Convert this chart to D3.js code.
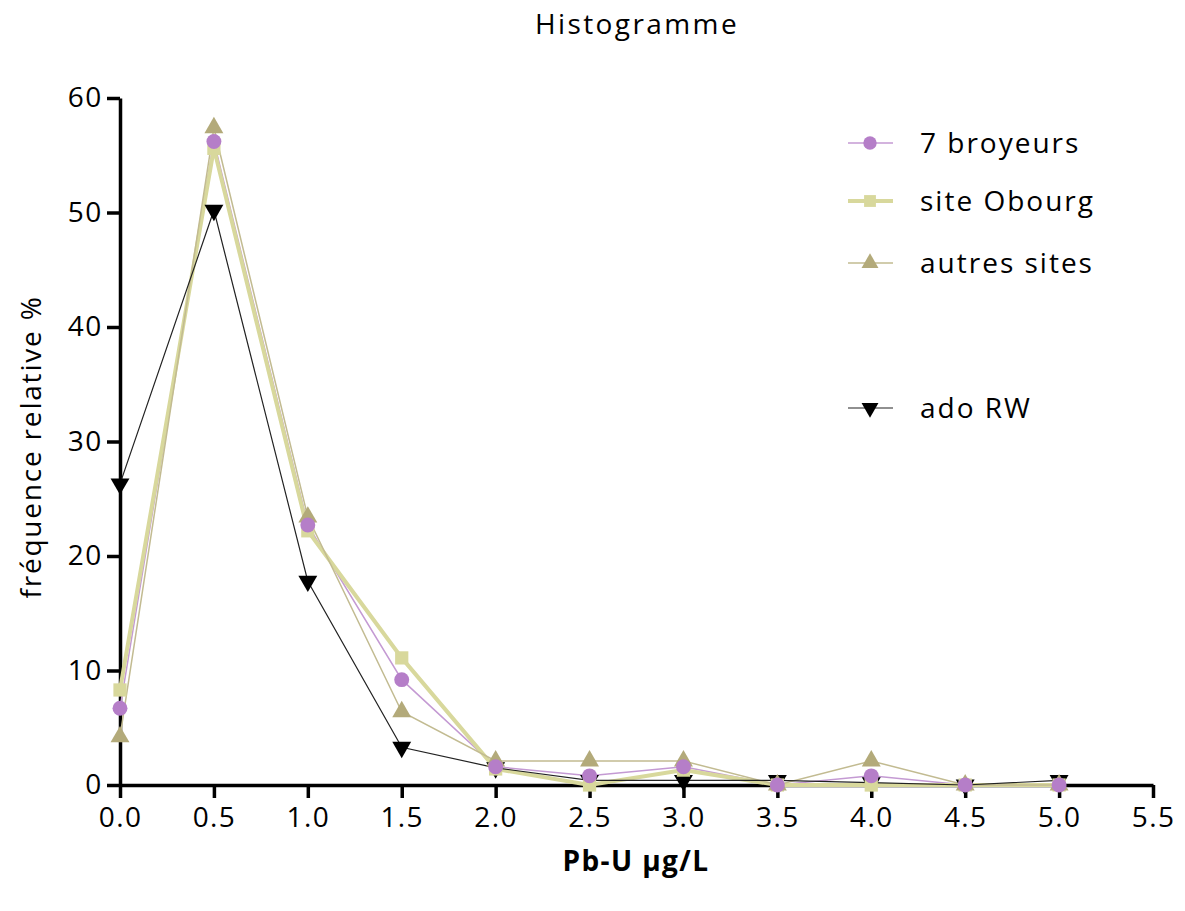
<!DOCTYPE html>
<html>
<head>
<meta charset="utf-8">
<script src="https://cdn.jsdelivr.net/npm/d3@7"></script>
<style>
  body { margin: 0; background: #fff; }
  text { font-family: "Open Sans", sans-serif; letter-spacing: 1.4px; }
</style>
</head>
<body>
<svg id="chart" width="1185" height="911"></svg>
<script>
// bins (Pb-U µg/L)
const bins = [0, 0.5, 1.0, 1.5, 2.0, 2.5, 3.0, 3.5, 4.0, 4.5, 5.0];
const xTicks = [0, 0.5, 1, 1.5, 2, 2.5, 3, 3.5, 4, 4.5, 5, 5.5];
const yTicks = [0, 10, 20, 30, 40, 50, 60];

const broyeurs = [6.7, 56.2, 22.7, 9.2, 1.6, 0.8, 1.6, 0, 0.8, 0, 0];
const obourg = [8.3, 55.6, 22.2, 11.1, 1.4, 0, 1.3, 0, 0, 0, 0];
const autres = [4.2, 57.4, 23.4, 6.4, 2.1, 2.1, 2.1, 0, 2.1, 0, 0];
const adoRW = [26.3, 50.2, 17.8, 3.3, 1.5, 0.4, 0.4, 0.4, 0.2, 0, 0.4];

const series = [
  { name: '7 broyeurs', values: broyeurs, color: '#b57ec8', lineColor: '#c49ad3', width: 1.5, symbol: d3.symbolCircle, size: 175, legendY: 143 },
  { name: 'site Obourg', values: obourg, color: '#d8d89c', lineColor: '#d8d89c', width: 4, symbol: d3.symbolSquare, size: 175, legendY: 201 },
  { name: 'autres sites', values: autres, color: '#b3aa7a', lineColor: '#c2bb91', width: 1.5, symbol: d3.symbolTriangle, size: 155, legendY: 263 },
  { name: 'ado RW', values: adoRW, color: '#000', lineColor: '#222', width: 1.2, symbol: d3.symbolTriangle, size: 155, flip: true, legendY: 408 }
];

const svg = d3.select('#chart');
const x = d3.scaleLinear().domain([0, 5.5]).range([120, 1153]);
const y = d3.scaleLinear().domain([0, 60]).range([785, 98]);

// title
svg.append('text')
  .attr('x', 637).attr('y', 34)
  .attr('text-anchor', 'middle')
  .style('font-size', '28px')
  .style('letter-spacing', '2.4px')
  .text('Histogramme');

// axes
const xAxis = svg.append('g')
  .attr('transform', `translate(0,${y(0)})`)
  .call(d3.axisBottom(x).tickValues(xTicks).tickFormat(d3.format('.1f')).tickSize(13).tickSizeOuter(0));
const yAxis = svg.append('g')
  .attr('transform', `translate(${x(0)},0)`)
  .call(d3.axisLeft(y).tickValues(yTicks).tickSize(13).tickSizeOuter(0));

[xAxis, yAxis].forEach(a => {
  a.select('.domain').attr('stroke', '#000').attr('stroke-width', 3.5);
  a.selectAll('.tick line').attr('stroke', '#000').attr('stroke-width', 3.5);
  a.selectAll('.tick text').style('font-size', '28px').attr('fill', '#000');
});
xAxis.selectAll('.tick text').attr('dy', '0.93em');
yAxis.selectAll('.tick text').attr('dx', '-0.05em');

// axis labels
svg.append('text')
  .attr('x', 636).attr('y', 871)
  .attr('text-anchor', 'middle')
  .style('font-size', '28px').style('font-weight', 'bold')
  .text('Pb-U µg/L');
svg.append('text')
  .attr('transform', `translate(41,447) rotate(-90)`)
  .attr('text-anchor', 'middle')
  .style('font-size', '28px')
  .style('letter-spacing', '1.8px')
  .text('fréquence relative %');

// lines + markers
const line = d3.line().x((d, i) => x(bins[i])).y(d => y(d));

series.forEach(s => {
  svg.append('path')
    .datum(s.values)
    .attr('fill', 'none')
    .attr('stroke', s.lineColor)
    .attr('stroke-width', s.width)
    .attr('d', line);
});

// draw markers, ado RW first so the others sit on top
[series[3], series[1], series[2], series[0]].forEach(s => {
  const sym = d3.symbol().type(s.symbol).size(s.size);
  svg.append('g').selectAll('path')
    .data(s.values)
    .join('path')
    .attr('d', sym)
    .attr('transform', (d, i) => `translate(${x(bins[i])},${y(d)})${s.flip ? ' rotate(180)' : ''}`)
    .attr('fill', s.color);
});

// legend
const legend = svg.append('g');
series.forEach(s => {
  const g = legend.append('g').attr('transform', `translate(0,${s.legendY})`);
  g.append('line')
    .attr('x1', 848).attr('x2', 893)
    .attr('stroke', s.lineColor)
    .attr('stroke-width', s.width);
  g.append('path')
    .attr('d', d3.symbol().type(s.symbol).size(s.size * 0.8))
    .attr('transform', `translate(870,0)${s.flip ? ' rotate(180)' : ''}`)
    .attr('fill', s.color);
  g.append('text')
    .attr('x', 920).attr('dy', '0.36em')
    .style('font-size', '28px')
    .style('letter-spacing', '2px')
    .text(s.name);
});
</script>
</body>
</html>
